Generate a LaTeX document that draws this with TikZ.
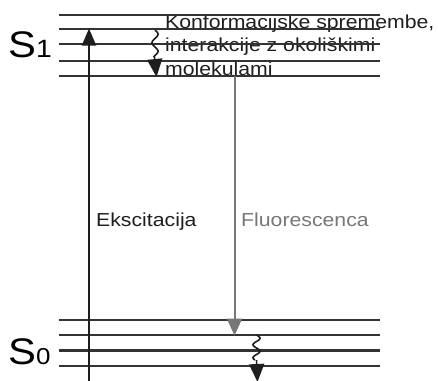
\documentclass[tikz,border=0pt]{standalone}
\usepackage{fontspec}
\setmainfont{Liberation Sans}
\usepackage{graphicx}
\usetikzlibrary{arrows.meta}
\definecolor{lvl}{HTML}{333333}
\definecolor{exc}{HTML}{1E1E1E}
\definecolor{flu}{HTML}{777777}
\newcommand\hstretch[1]{\scalebox{1.13}[1]{#1}}
\begin{document}
\begin{tikzpicture}[x=1pt,y=-1pt,
  level/.style={draw=lvl, line width=2.1pt},
  txt/.style={anchor=base west, inner sep=0pt, font=\fontsize{18.8}{22}\selectfont},
  statelbl/.style={anchor=base west, inner sep=0pt},
  wave/.style={draw=exc, line width=1.6pt}]
\useasboundingbox (0,0) rectangle (438,380);

% state labels
\node[statelbl] (s1) at (8,57) {\hstretch{\fontsize{37}{40}\selectfont S\fontsize{25}{28}\selectfont 1}};
\node[statelbl] (s0) at (8,364) {\hstretch{\fontsize{37}{40}\selectfont S\fontsize{23}{28}\selectfont 0}};

% text near S1
\node[txt, text=exc] (t1) at (165,28.3) {\hstretch{Konformacijske spremembe,}};
\node[txt, text=exc] (t2) at (165,51.5) {\hstretch{interakcije z okoliškimi}};
\node[txt, text=exc] (t3) at (165,75) {\hstretch{molekulami}};

% arrow labels
\node[txt, text=exc] (le) at (96,226.7) {\hstretch{Ekscitacija}};
\node[txt, text=flu] (lf) at (241,226.7) {\hstretch{Fluorescenca}};

% S1 levels
\foreach \i/\y in {1/14.7,2/29.3,3/44.3,4/60.7,5/75.7}{
  \coordinate (u\i L) at (59,\y);
  \coordinate (u\i R) at (380,\y);
  \draw[level] (u\i L) -- (u\i R);
}
% S0 levels
\foreach \i/\y in {1/320,2/334.7,3/350.5,4/366}{
  \coordinate (d\i L) at (59,\y);
  \coordinate (d\i R) at (380,\y);
  \draw[level] (d\i L) -- (d\i R);
}

% excitation
\coordinate (ebot) at (89,384);
\coordinate (etop) at (89,28.5);
\draw[-{Triangle[width=14pt,length=17pt]}, draw=exc, fill=exc, line width=2.2pt] (ebot) -- (etop);

% fluorescence
\coordinate (ftop) at (234.5,75.7);
\coordinate (fbot) at (234.5,335.5);
\draw[-{Triangle[width=15pt,length=17pt]}, draw=flu, fill=flu, line width=2pt] (ftop) -- (fbot);

% relaxation in S1
\draw[wave] plot[domain=30:57, samples=60, smooth] ({155+3*sin((\x-30)*360/17)},\x);
\coordinate (w1a) at (154.5,57);
\coordinate (w1b) at (156.5,77);
\draw[-{Triangle[width=15pt,length=18pt]}, draw=exc, fill=exc, line width=1.6pt] (w1a) -- (w1b);

% relaxation in S0
\draw[wave] plot[domain=335:360, samples=60, smooth] ({256.5+3.5*sin((\x-335)*360/13)},\x);
\coordinate (w0a) at (256.5,360);
\coordinate (w0b) at (257.5,382);
\draw[-{Triangle[width=15pt,length=18pt]}, draw=exc, fill=exc, line width=1.6pt] (w0a) -- (w0b);
\end{tikzpicture}
\end{document}
